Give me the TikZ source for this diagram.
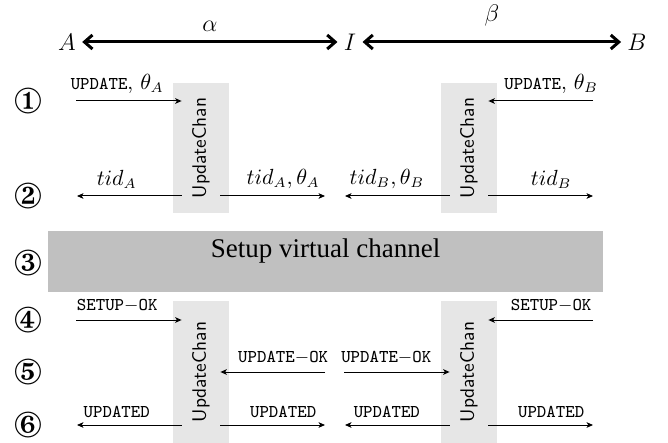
\documentclass[tikz,border=0pt]{standalone}
\usepackage{fontspec}
\usepackage{pifont}
\usetikzlibrary{arrows.meta,calc}
\newfontfamily\timesf{Liberation Serif}
\newcommand{\lbtt}[1]{{\fontsize{9}{11}\selectfont\ttfamily #1}}
\newcommand{\lbdash}{{\fontsize{9}{11}\selectfont$-$}}
\definecolor{chanfill}{RGB}{230,230,230}
\definecolor{setupfill}{RGB}{192,192,192}
\tikzset{
  party/.style={font=\fontsize{12}{14}\selectfont, inner sep=3pt},
  chanarrow/.style={line width=1.5pt, {Straight Barb[length=4pt,width=7pt]}-{Straight Barb[length=4pt,width=7pt]}},
  msg/.style={line width=0.5pt, -{Stealth[length=3.2pt,width=2.8pt,inset=0.8pt]}},
  lbl/.style={above=1pt, font=\fontsize{10.5}{13}\selectfont, inner sep=2.5pt},
  stepnum/.style={font=\fontsize{18}{20}\selectfont, inner sep=0pt},
  chanbox/.style={fill=chanfill, draw=none, minimum width=28pt, inner sep=0pt},
  chantext/.style={rotate=90, font=\fontsize{9.7}{11}\selectfont\sffamily, inner sep=0pt, minimum height=19pt},
  setupbox/.style={fill=setupfill, draw=none, minimum width=277.5pt, minimum height=30.5pt, inner sep=0pt},
}
\begin{document}
\begin{tikzpicture}[x=0.5pt,y=-0.5pt]
\useasboundingbox (0,0) rectangle (668,443);
% parties
\node[party] (A) at (67,42) {$A$};
\node[party] (I) at (350,42) {$I$};
\node[party] (B) at (637,42) {$B$};
\draw[chanarrow] (A) -- node[above=1pt, font=\fontsize{12}{14}\selectfont] {$\alpha$} (I);
\draw[chanarrow] (I) -- node[above=4pt, font=\fontsize{12}{14}\selectfont] {$\beta$} (B);
% step numbers
\node[stepnum] (s1) at (28,101) {\ding{172}};
\node[stepnum] (s2) at (28,196) {\ding{173}};
\node[stepnum] (s3) at (28,263) {\ding{174}};
\node[stepnum] (s4) at (28,320) {\ding{175}};
\node[stepnum] (s5) at (28,372) {\ding{176}};
\node[stepnum] (s6) at (28,425) {\ding{177}};
% update boxes, top
\node[chanbox, minimum height=65pt] (b1) at (201,148) {};
\node[chanbox, minimum height=65pt] (b2) at (469,148) {};
\node[chantext] (u1) at (b1.center) {UpdateChan};
\node[chantext] (u2) at (b2.center) {UpdateChan};
% setup box
\node[setupbox] (setup) at (325.5,261.5) {};
\node[anchor=north, font=\fontsize{13.5}{16}\selectfont\timesf, inner sep=0pt] (setuptext) at ([yshift=-4pt]setup.north) {Setup virtual channel};
% update boxes, bottom
\node[chanbox, minimum height=71pt] (b3) at (201,372) {};
\node[chanbox, minimum height=71pt] (b4) at (469,372) {};
\node[chantext] (u3) at (b3.center) {UpdateChan};
\node[chantext] (u4) at (b4.center) {UpdateChan};
% free ends
\coordinate (p1l) at (76,101);
\coordinate (p1r) at (593,101);
\coordinate (p2a) at (77,196);
\coordinate (p2b) at (325,196);
\coordinate (p2c) at (345,196);
\coordinate (p2d) at (593,196);
\coordinate (p4l) at (76,320);
\coordinate (p4r) at (593,320);
\coordinate (p5l) at (325,372);
\coordinate (p5r) at (344,372);
\coordinate (p6a) at (77,425);
\coordinate (p6b) at (325,425);
\coordinate (p6c) at (345,425);
\coordinate (p6d) at (593,425);
% step 1
\draw[msg] (p1l) -- node[lbl, pos=0.39] {\lbtt{UPDATE}, $\theta_A$} (p1l -| u1.north);
\draw[msg] (p1r) -- node[lbl, pos=0.4] {\lbtt{UPDATE}, $\theta_B$} (p1r -| u2.south);
% step 2
\draw[msg] (p2a -| u1.north) -- node[lbl, pos=0.62] {$tid_A$} (p2a);
\draw[msg] (p2b -| u1.south) -- node[lbl, pos=0.6] {$tid_A, \theta_A$} (p2b);
\draw[msg] (p2c -| u2.north) -- node[lbl, pos=0.6] {$tid_B, \theta_B$} (p2c);
\draw[msg] (p2d -| u2.south) -- node[lbl, pos=0.6] {$tid_B$} (p2d);
% step 4
\draw[msg] (p4l) -- node[lbl, pos=0.39] {\lbtt{SETUP}\lbdash\lbtt{OK}} (p4l -| u3.north);
\draw[msg] (p4r) -- node[lbl, pos=0.4] {\lbtt{SETUP}\lbdash\lbtt{OK}} (p4r -| u4.south);
% step 5
\draw[msg] (p5l) -- node[lbl, pos=0.4] {\lbtt{UPDATE}\lbdash\lbtt{OK}} (p5l -| u3.south);
\draw[msg] (p5r) -- node[lbl, pos=0.4] {\lbtt{UPDATE}\lbdash\lbtt{OK}} (p5r -| u4.north);
% step 6
\draw[msg] (p6a -| u3.north) -- node[lbl, pos=0.62] {\lbtt{UPDATED}} (p6a);
\draw[msg] (p6b -| u3.south) -- node[lbl, pos=0.6] {\lbtt{UPDATED}} (p6b);
\draw[msg] (p6c -| u4.north) -- node[lbl, pos=0.6] {\lbtt{UPDATED}} (p6c);
\draw[msg] (p6d -| u4.south) -- node[lbl, pos=0.6] {\lbtt{UPDATED}} (p6d);
\end{tikzpicture}
\end{document}
